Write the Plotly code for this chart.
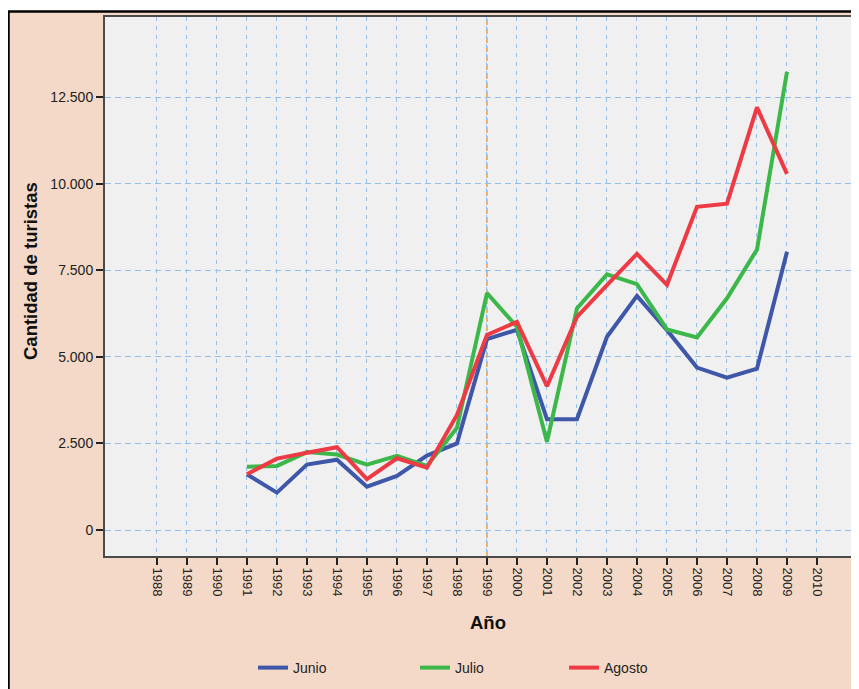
import plotly.graph_objects as go

years = list(range(1991, 2010))
junio = [1610, 1080, 1890, 2030, 1250, 1560, 2150, 2500, 5510, 5780, 3200, 3200, 5580, 6760, 5770, 4690, 4400, 4660, 8030]
julio = [1830, 1850, 2250, 2180, 1890, 2140, 1850, 2950, 6840, 5870, 2550, 6400, 7380, 7100, 5790, 5560, 6690, 8100, 13230]
agosto = [1610, 2060, 2230, 2390, 1470, 2070, 1800, 3320, 5630, 6010, 4150, 6150, 7070, 7970, 7080, 9330, 9420, 12200, 10280]

series_names = ["Junio", "Julio", "Agosto"]
series_values = [junio, julio, agosto]
series_colors = ["#3F57A8", "#3CB84A", "#EE3A44"]

x_ticks = list(range(1988, 2011))
y_ticks = [0, 2500, 5000, 7500, 10000, 12500]
ref_year = 1999
x_title = "Año"
y_title = "Cantidad de turistas"

OFF = 8  # page body margin
W, H = 859 - OFF, 689 - OFF
L = 105 - OFF
T = 17 - OFF
R = 0
B = H - (556 - OFF)
pw = W - L - R
ph = H - T - B


def px_x(p):
    # p: screen pixel x
    return (p - OFF - L) / pw


def px_y(p):
    # p: screen pixel y
    return (H - B - (p - OFF)) / ph


font_family = "Liberation Sans, Arial, sans-serif"
salmon = "#F4D9C8"
grid_col = "#93BFE8"

fig = go.Figure()
legend_ids = ["legend", "legend2", "legend3"]
for name, vals, col, lg in zip(series_names, series_values, series_colors, legend_ids):
    fig.add_trace(go.Scatter(
        x=years, y=vals, mode="lines", name=name,
        line=dict(color=col, width=4),
        legend=lg,
    ))

legend_text_starts = [293, 455, 604]
leg_common = dict(
    orientation="h", yanchor="middle", xanchor="left",
    font=dict(family=font_family, size=14, color="#222222"),
    bgcolor="rgba(0,0,0,0)", itemwidth=30,
)
legends = {}
for lg, tx in zip(legend_ids, legend_text_starts):
    legends[lg] = dict(leg_common, x=px_x(tx - 40), y=px_y(668))

fig.update_layout(
    width=W, height=H,
    margin=dict(l=L, r=R, t=T, b=B, pad=0),
    paper_bgcolor=salmon,
    plot_bgcolor="#F0F0F0",
    separators=",.",
    font=dict(family=font_family, size=12, color="#222222"),
    showlegend=True,
    **legends,
    xaxis=dict(
        range=[1986.27, 2011.4],
        tickvals=x_ticks, ticktext=[str(v) for v in x_ticks],
        tickangle=90,
        ticks="outside", ticklen=7, tickwidth=1.5, tickcolor="#222222",
        showline=True, linecolor="#4A4A4A", linewidth=2, mirror=True,
        showgrid=True, gridcolor=grid_col, gridwidth=1, griddash="4px,5px",
        zeroline=False,
        tickfont=dict(family=font_family, size=13, color="#222222"),
    ),
    yaxis=dict(
        range=[-750, 14810],
        tickvals=y_ticks, tickformat=",",
        ticks="outside", ticklen=7, tickwidth=1.5, tickcolor="#222222",
        showline=True, linecolor="#4A4A4A", linewidth=2, mirror=False,
        showgrid=True, gridcolor=grid_col, gridwidth=1, griddash="6px,4px",
        zeroline=False,
        tickfont=dict(family=font_family, size=14, color="#222222"),
    ),
    annotations=[
        dict(text="<b>%s</b>" % x_title, xref="paper", yref="paper",
             x=px_x(488), y=px_y(622), xanchor="center", yanchor="middle",
             showarrow=False, font=dict(family=font_family, size=18.5, color="#111111")),
        dict(text="<b>%s</b>" % y_title, xref="paper", yref="paper",
             x=px_x(30), y=px_y(271), xanchor="center", yanchor="middle", textangle=-90,
             showarrow=False, font=dict(family=font_family, size=18.5, color="#111111")),
    ],
    shapes=[
        # white strip at the very top of the figure
        dict(type="rect", xref="paper", yref="paper",
             x0=-0.5, x1=1.2, y0=px_y(11.5), y1=px_y(0),
             fillcolor="white", line=dict(width=0), layer="below"),
        # black frame lines (top and left)
        dict(type="line", xref="paper", yref="paper",
             x0=px_x(8), x1=1.2, y0=px_y(11.5), y1=px_y(11.5),
             line=dict(color="black", width=2.5), layer="below"),
        dict(type="line", xref="paper", yref="paper",
             x0=px_x(8.5), x1=px_x(8.5), y0=px_y(11), y1=px_y(700),
             line=dict(color="black", width=2.5), layer="below"),
        dict(type="line", xref="x", yref="paper", x0=ref_year, x1=ref_year, y0=0, y1=1,
             line=dict(color="#E3A04A", width=1.5, dash="6px,3px"), layer="between"),
    ],
)

fig.write_html("out.html")
